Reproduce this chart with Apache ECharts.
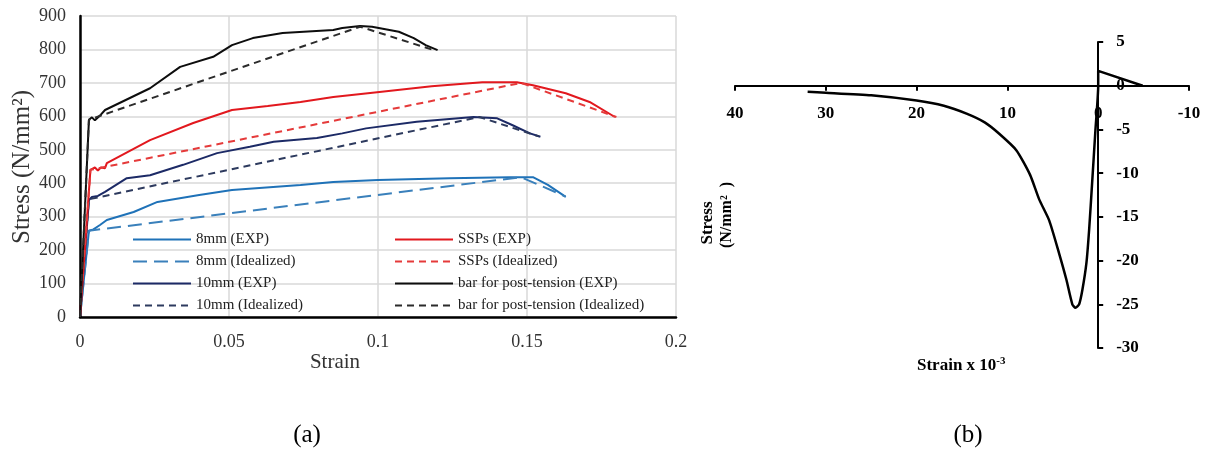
<!DOCTYPE html>
<html>
<head>
<meta charset="utf-8">
<script src="https://cdn.jsdelivr.net/npm/echarts@6/dist/echarts.min.js"></script>
<style>
  html, body { margin: 0; padding: 0; background: #fff; }
  #chart { width: 1207px; height: 452px; }
</style>
</head>
<body>
<div id="chart"></div>
<script>
// (a) steel bars: [strain, stress N/mm2]
const bar8Exp = [[0,0],[0.003,258],[0.0045,262],[0.0067,275],[0.009,290],[0.018,314],[0.026,344],[0.04,365],[0.051,380],[0.074,395],[0.085,404],[0.1,410],[0.124,415],[0.144,418],[0.152,418],[0.157,395],[0.163,359]]
const bar8Ideal = [[0,0],[0.003,258],[0.148,418],[0.163,360]]
const bar10Exp = [[0,0],[0.003,350],[0.004,359],[0.006,362],[0.0084,374],[0.0157,415],[0.0235,424],[0.0346,455],[0.046,490],[0.057,509],[0.065,524],[0.0795,535],[0.088,549],[0.096,564],[0.113,584],[0.132,598],[0.14,594],[0.145,574],[0.151,549],[0.1545,539]]
const bar10Ideal = [[0,0],[0.003,352],[0.134,598],[0.154,540]]
const sspExp = [[0,0],[0.0035,440],[0.005,447],[0.006,438],[0.007,447],[0.0084,445],[0.009,460],[0.0235,529],[0.038,580],[0.051,619],[0.063,631],[0.074,643],[0.085,658],[0.0997,672],[0.118,690],[0.135,702],[0.1466,702],[0.152,693],[0.163,669],[0.171,643],[0.1795,598]]
const sspIdeal = [[0,0],[0.0035,440],[0.148,700],[0.18,598]]
const ptExp = [[0,0],[0.003,590],[0.004,597],[0.005,588],[0.007,605],[0.0084,619],[0.0235,684],[0.0336,748],[0.0447,778],[0.051,813],[0.058,834],[0.068,849],[0.085,858],[0.088,864],[0.094,870],[0.098,868],[0.107,853],[0.112,834],[0.116,813],[0.12,798]]
const ptIdeal = [[0,0],[0.003,590],[0.094,868],[0.118,800]]

// (b) concrete: [strain x 1e-3, stress N/mm2]
const concrete = [[32,-0.7],[30,-0.8],[25,-1.1],[20,-1.7],[17,-2.3],[14.5,-3.2],[12.5,-4.2],[10.9,-5.5],[9,-7.4],[7.5,-10.2],[6.5,-13],[5.4,-15.4],[4.3,-19.2],[3.5,-22.2],[2.85,-25],[2.5,-25.4],[2.1,-25],[1.75,-23.4],[1.3,-20.3],[1.0,-16.5],[0.65,-10.8],[0.3,-5],[0,0],[0,1.7],[-4.9,0]]

const serif = '"Liberation Serif", "DejaVu Serif", serif'
const chart = echarts.init(document.getElementById('chart'))

// (b) plot area in px; the axes cross at strain 0 / stress 0
const bLeft = 735, bRight = 18, bTop = 42, bBottom = 104
const bWidth = 1207 - bLeft - bRight
const bHeight = 452 - bTop - bBottom
const zeroX = bLeft + bWidth * 40 / 50
const zeroY = bTop + bHeight * 5 / 35

const line = (name, data, color, dash, axis) => ({
  name,
  type: 'line',
  data,
  xAxisIndex: axis,
  yAxisIndex: axis,
  symbol: 'none',
  animation: false,
  lineStyle: { color, width: 2, type: dash || 'solid' },
  itemStyle: { color }
})

const legendText = { fontFamily: serif, fontSize: 15, color: '#222' }
const boldAxis = {
  axisLine: { show: true, onZero: false, lineStyle: { color: '#000', width: 2 } },
  axisTick: { show: true, length: 5, lineStyle: { color: '#000', width: 2 } },
  splitLine: { show: false }
}
const boldLabel = { fontFamily: serif, fontSize: 17, fontWeight: 'bold', color: '#000' }

chart.setOption({
  animation: false,
  grid: [
    { left: 80, top: 16, right: 531, bottom: 135, outerBoundsMode: 'none' },
    { left: bLeft, top: bTop, right: bRight, bottom: bBottom, outerBoundsMode: 'none' },
    // strip whose bottom edge is the stress = 0 line (carries the strain axis)
    { left: bLeft, top: bTop, right: bRight, height: zeroY - bTop, outerBoundsMode: 'none' },
    // strip whose right edge is the strain = 0 line (carries the stress axis)
    { left: bLeft, top: bTop, right: 1207 - zeroX, bottom: bBottom, outerBoundsMode: 'none' }
  ],
  legend: [
    {
      data: ['8mm (EXP)', '8mm (Idealized)', '10mm (EXP)', '10mm (Idealized)'],
      left: 127, top: 227, orient: 'vertical',
      itemWidth: 58, itemHeight: 12, itemGap: 7,
      itemStyle: { opacity: 0 },
      textStyle: legendText
    },
    {
      data: ['SSPs (EXP)', 'SSPs (Idealized)', 'bar for post-tension (EXP)', 'bar for post-tension (Idealized)'],
      left: 389, top: 227, orient: 'vertical',
      itemWidth: 58, itemHeight: 12, itemGap: 7,
      itemStyle: { opacity: 0 },
      textStyle: legendText
    }
  ],
  xAxis: [
    {
      gridIndex: 0, type: 'value', min: 0, max: 0.2, interval: 0.05,
      axisLine: { onZero: false, lineStyle: { color: '#000', width: 2.5 } },
      axisTick: { show: false },
      axisLabel: { fontFamily: serif, fontSize: 18, color: '#333', margin: 16 },
      splitLine: { lineStyle: { color: '#d9d9d9', width: 1.5 } }
    },
    { gridIndex: 1, type: 'value', min: -10, max: 40, inverse: true, show: false },
    Object.assign({
      gridIndex: 2, type: 'value', min: -10, max: 40, interval: 10, inverse: true, position: 'bottom',
      axisLabel: Object.assign({ margin: 19 }, boldLabel)
    }, boldAxis),
    { gridIndex: 3, type: 'value', min: -10, max: 0, show: false }
  ],
  yAxis: [
    {
      gridIndex: 0, type: 'value', min: 0, max: 900, interval: 100,
      axisLine: { show: true, onZero: false, lineStyle: { color: '#000', width: 2.5 } },
      axisTick: { show: false },
      axisLabel: { fontFamily: serif, fontSize: 18, color: '#333', margin: 14 },
      splitLine: { lineStyle: { color: '#d9d9d9', width: 1.5 } }
    },
    { gridIndex: 1, type: 'value', min: -30, max: 5, show: false },
    { gridIndex: 2, type: 'value', min: 0, max: 5, show: false },
    Object.assign({
      gridIndex: 3, type: 'value', min: -30, max: 5, interval: 5, position: 'right',
      axisLabel: Object.assign({ margin: 18 }, boldLabel)
    }, boldAxis)
  ],
  series: [
    line('8mm (EXP)', bar8Exp, '#1f72b8', null, 0),
    line('8mm (Idealized)', bar8Ideal, '#3a80bb', [14, 7], 0),
    line('10mm (EXP)', bar10Exp, '#1c2a66', null, 0),
    line('10mm (Idealized)', bar10Ideal, '#2d3a5e', [7, 5], 0),
    line('SSPs (EXP)', sspExp, '#e2181e', null, 0),
    line('SSPs (Idealized)', sspIdeal, '#e53a3a', [7, 5], 0),
    line('bar for post-tension (EXP)', ptExp, '#0d0d0d', null, 0),
    line('bar for post-tension (Idealized)', ptIdeal, '#2b2b2b', [7, 5], 0),
    Object.assign(line('concrete', concrete, '#000', null, 1), { smooth: 0.2, lineStyle: { color: '#000', width: 2.5 } })
  ],
  graphic: [
    {
      type: 'text', x: 22, y: 167, rotation: Math.PI / 2,
      style: { text: 'Stress (N/mm²)', font: '25px ' + serif, fill: '#333', textAlign: 'center', textVerticalAlign: 'middle' }
    },
    {
      type: 'text', x: 335, y: 362,
      style: { text: 'Strain', font: '21px ' + serif, fill: '#333', textAlign: 'center', textVerticalAlign: 'middle' }
    },
    {
      type: 'text', x: 708, y: 223, rotation: Math.PI / 2,
      style: { text: 'Stress', font: 'bold 17px ' + serif, fill: '#000', textAlign: 'center', textVerticalAlign: 'middle' }
    },
    {
      type: 'text', x: 727, y: 215, rotation: Math.PI / 2,
      style: { text: '(N/mm²  )', font: 'bold 16px ' + serif, fill: '#000', textAlign: 'center', textVerticalAlign: 'middle' }
    },
    {
      type: 'text', x: 917, y: 366,
      style: {
        text: 'Strain x 10{sup|-3}',
        font: 'bold 17px ' + serif, fill: '#000', textVerticalAlign: 'middle',
        rich: { sup: { fontFamily: serif, fontWeight: 'bold', fontSize: 11, verticalAlign: 'top', padding: [0, 0, 10, 0] } }
      }
    },
    {
      type: 'text', x: 307, y: 435,
      style: { text: '(a)', font: '25px ' + serif, fill: '#000', textAlign: 'center', textVerticalAlign: 'middle' }
    },
    {
      type: 'text', x: 968, y: 435,
      style: { text: '(b)', font: '25px ' + serif, fill: '#000', textAlign: 'center', textVerticalAlign: 'middle' }
    }
  ]
})

window.addEventListener('resize', () => chart.resize())
</script>
</body>
</html>
